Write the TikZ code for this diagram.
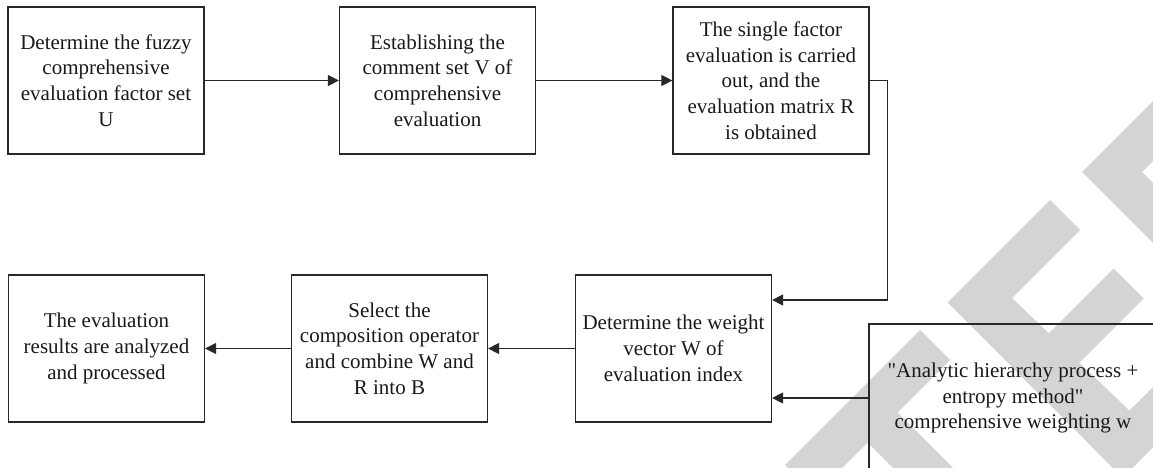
\documentclass[tikz,border=0pt]{standalone}
\usepackage{fontspec}
\setmainfont{Liberation Serif}
\newfontfamily\qfont{Liberation Serif}[Ligatures=ResetAll]
\newcommand{\sq}{{\qfont\char34}}
\usetikzlibrary{arrows.meta}
\definecolor{wm}{RGB}{212,212,212}
\definecolor{ln}{RGB}{40,40,40}
\tikzset{
  box/.style={draw=ln, line width=1.2pt, minimum width=196pt, minimum height=147pt,
    inner sep=0pt, align=center, font=\fontsize{21}{25.7}\selectfont, text=black!90},
  arr/.style={draw=ln, line width=1.1pt, -{Triangle[length=11pt,width=11pt]}}
}
\begin{document}
\begin{tikzpicture}[x=1pt,y=-1pt]
\useasboundingbox (0,0) rectangle (1153,468);
% watermark (rotated letters)
\begin{scope}
\clip (0,0) rectangle (1153,468);
% T
\fill[wm] (785,465) -- (920,330) -- (950,360) -- (815,495) -- cycle;
\fill[wm] (862.5,437.5) -- (892.5,407.5) -- (1042.5,557.5) -- (1012.5,587.5) -- cycle;
% E
\fill[wm] (947.5,302.5) -- (1050,200) -- (1080,230) -- (1012,298) -- (1160,440) -- (1122.5,477.5) -- cycle;
\fill[wm] (1013.5,368.5) -- (1113.5,268.5) -- (1143.5,298.5) -- (1043.5,398.5) -- cycle;
\fill[wm] (1092.5,447.5) -- (1195,345) -- (1225,375) -- (1122.5,477.5) -- cycle;
% D
\fill[wm] (1082,172) -- (1252,2) -- (1282,32) -- (1142,172) -- (1285,315) -- (1255,345) -- cycle;
\end{scope}
% nodes
\node[box] (a) at (106,80.5) {Determine the fuzzy\\comprehensive\\evaluation factor set\\U};
\node[box] (b) at (437.5,80.5) {Establishing the\\comment set V of\\comprehensive\\evaluation};
\node[box] (c) at (771,80.5) {The single factor\\evaluation is carried\\out, and the\\evaluation matrix R\\is obtained};
\node[box] (w) at (673.5,348.5) {Determine the weight\\vector W of\\evaluation index};
\node[box] (s) at (389.5,348.5) {Select the\\composition operator\\and combine W and\\R into B};
\node[box] (r) at (106.5,348.5) {The evaluation\\results are analyzed\\and processed};
\node[box, minimum width=288pt, minimum height=148pt] (h) at (1013,398) {\sq Analytic hierarchy process +\\entropy method\sq\\comprehensive weighting w};
% connectors
\draw[arr] (a) -- (b);
\draw[arr] (b) -- (c);
\draw[arr] (c.east) -- ++(18,0) |- ([yshift=48.5pt]w.east);
\draw[arr] (h.west) -- (h.west -| w.east);
\draw[arr] (w) -- (s);
\draw[arr] (s) -- (r);
\end{tikzpicture}
\end{document}
